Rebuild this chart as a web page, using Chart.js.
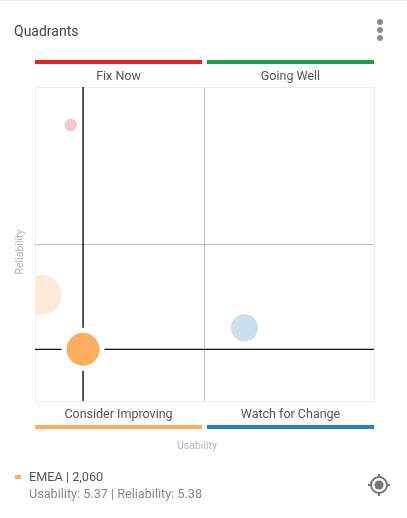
<!DOCTYPE html>
<html>
<head>
<meta charset="utf-8">
<title>Quadrants</title>
<script src="https://cdn.jsdelivr.net/npm/chart.js@4"></script>
<style>
  html, body { margin:0; padding:0; background:#fff; overflow:hidden; }
  body { width:407px; height:518px; position:relative; font-family:Roboto, sans-serif; }
  canvas { position:absolute; left:0; top:0; }
  .abs { position:absolute; white-space:nowrap; }
  .topline { left:0; top:0; width:407px; height:1px; background:#e6e9f1; }
  .title { left:14px; top:22px; font-size:14px; line-height:18px; color:#444; }
  .dot { left:376.5px; width:6px; height:6px; border-radius:50%; background:#8c8c8c; }
  .bar { height:4px; }
  .qlabel { width:167px; text-align:center; font-size:12.5px; line-height:16px; color:#555; }
  .axis { font-size:10.5px; line-height:12px; color:#b5b5b5; }
  .swatch { left:15px; top:475px; width:6px; height:4px; background:#ffad60; }
  .legend1 { left:29px; top:469px; font-size:12.7px; line-height:16px; color:#555; }
  .legend2 { left:29px; top:486px; font-size:12.65px; line-height:16px; color:#888; }
  .target { left:366.5px; top:473px; }
</style>
</head>
<body>
<canvas id="chart-quadrants" width="407" height="518"></canvas>

<div class="abs topline"></div>
<div class="abs title">Quadrants</div>
<div class="abs dot" style="top:19px"></div>
<div class="abs dot" style="top:27px"></div>
<div class="abs dot" style="top:35px"></div>

<div class="abs bar" style="left:35px;top:60px;width:167px;background:#e02527"></div>
<div class="abs bar" style="left:207px;top:60px;width:167px;background:#23994a"></div>
<div class="abs qlabel" style="left:35px;top:68px">Fix Now</div>
<div class="abs qlabel" style="left:207px;top:68px">Going Well</div>
<div class="abs qlabel" style="left:35px;top:406px">Consider Improving</div>
<div class="abs qlabel" style="left:207px;top:406px">Watch for Change</div>
<div class="abs bar" style="left:35px;top:425px;width:167px;background:#ffad60"></div>
<div class="abs bar" style="left:207px;top:425px;width:167px;background:#2a7fb8"></div>

<div class="abs axis" style="left:177px;top:440px">Usability</div>
<div class="abs axis" style="left:19.5px;top:252px;transform:translate(-50%,-50%) rotate(-90deg)">Reliability</div>

<div class="abs swatch"></div>
<div class="abs legend1">EMEA | 2,060</div>
<div class="abs legend2">Usability: 5.37 | Reliability: 5.38</div>
<svg class="abs target" width="24" height="24" viewBox="0 0 24 24">
  <circle cx="12" cy="12" r="8" fill="none" stroke="#777" stroke-width="2"/>
  <circle cx="12" cy="12" r="4.5" fill="#777"/>
  <path d="M12 1v3M12 20v3M1 12h3M20 12h3" stroke="#777" stroke-width="2"/>
</svg>

<script>
// values
const usability   = [5.276, 5.052, 6.613, 5.37];
const reliability = [7.03, 5.78, 5.538, 5.38];
const volume      = [300, 3030, 1380, 2060];
const pointColors = ['#f5c9cb', '#ffead9', '#c9dfed', '#ffad60'];
const selectedIdx = 3;

const usabilityTicks   = [5, 6.305, 7.61];
const reliabilityTicks = [5, 6.15, 7.31];

const EDGE_COLOR = '#eeeeee';
const MID_COLOR = '#bdbdbd';

function gridColor(ctx) {
  return ctx.index === 1 ? MID_COLOR : EDGE_COLOR;
}

function quadrantScale(ticks) {
  return {
    type:'linear',
    min: ticks[0],
    max: ticks[2],
    afterBuildTicks: scale => { scale.ticks = ticks.map(v => ({ value:v })); },
    afterFit: scale => {
      if (scale.isHorizontal()) scale.height = 0; else scale.width = 0;
    },
    ticks: { display:false },
    border: { display:false },
    grid: { color:gridColor, lineWidth:1, drawTicks:false }
  };
}

function bubbleRadius(v, i) {
  const r = 0.3635 * Math.sqrt(v);
  return i === selectedIdx ? r + 2.5 : r;
}

new Chart(document.getElementById('chart-quadrants'), {
  type:'bubble',
  data:{
    datasets:[
      {
        label:'Usability marker', type:'scatter', showLine:true, order:2,
        data: reliabilityTicks.filter((v,i) => i !== 1).map(v => ({ x:usability[selectedIdx], y:v })),
        borderColor:'#111', borderWidth:1.4, pointRadius:0
      },
      {
        label:'Reliability marker', type:'scatter', showLine:true, order:2,
        data: usabilityTicks.filter((v,i) => i !== 1).map(v => ({ x:v, y:reliability[selectedIdx] })),
        borderColor:'#111', borderWidth:1.4, pointRadius:0
      },
      {
        label:'Regions', order:1,
        data: usability.map((u,i) => ({ x:u, y:reliability[i], r:bubbleRadius(volume[i], i) })),
        backgroundColor: pointColors,
        borderColor:'#ffffff',
        borderWidth: usability.map((u,i) => i === selectedIdx ? 5 : 0),
        hoverRadius:0
      }
    ]
  },
  options:{
    responsive:false,
    animation:false,
    layout:{ padding:{ left:35, right:33, top:87, bottom:117 } },
    plugins:{ legend:{ display:false }, tooltip:{ enabled:false } },
    scales:{
      x: quadrantScale(usabilityTicks),
      y: quadrantScale(reliabilityTicks)
    }
  }
});
</script>
</body>
</html>
